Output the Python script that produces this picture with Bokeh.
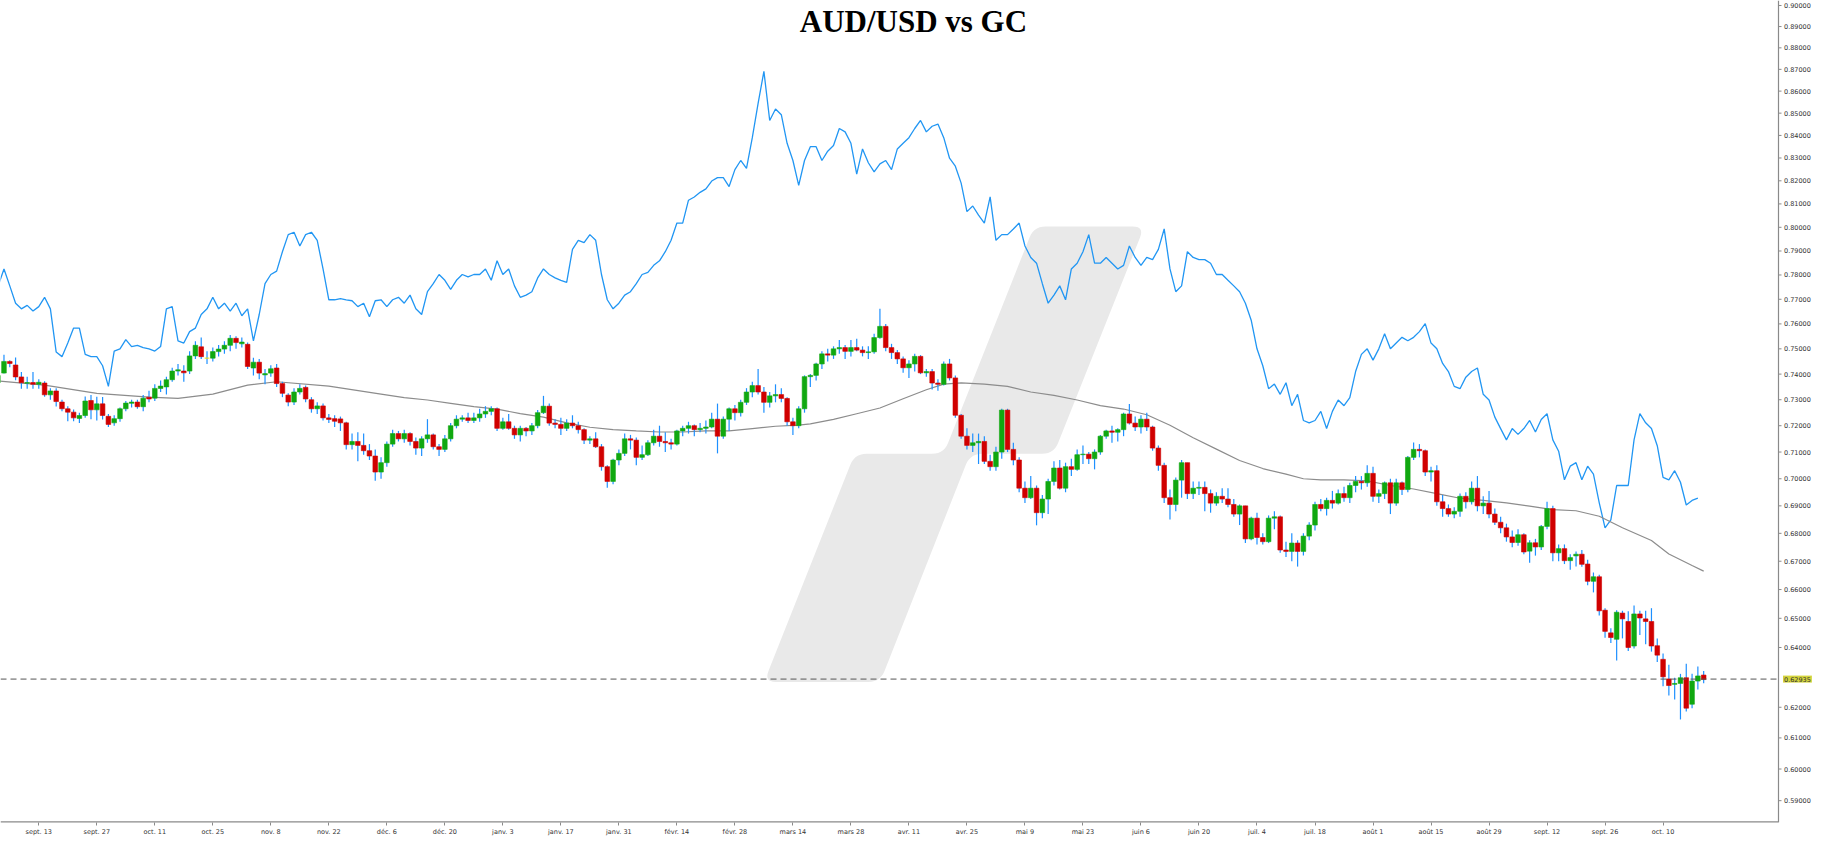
import math
from bokeh.plotting import figure
from bokeh.models import Range1d, FixedTicker, Span, Label, ColumnDataSource
from bokeh.core.properties import value
from bokeh.embed import file_html
from bokeh.resources import INLINE

# ---------------- data ----------------
first_index = -6   # candle index; index 1 = "sept. 13"

opens = [
    0.7366, 0.7404, 0.7450, 0.7436, 0.7389, 0.7364, 0.7367, 0.7360, 0.7365, 0.7319,
    0.7334, 0.7291, 0.7265, 0.7252, 0.7228, 0.7239, 0.7297, 0.7261, 0.7284, 0.7236,
    0.7211, 0.7227, 0.7265, 0.7286, 0.7291, 0.7273, 0.7310, 0.7306, 0.7344, 0.7350,
    0.7378, 0.7412, 0.7412, 0.7412, 0.7472, 0.7508, 0.7463, 0.7463, 0.7489, 0.7499,
    0.7514, 0.7542, 0.7520, 0.7518, 0.7424, 0.7447, 0.7397, 0.7404, 0.7424, 0.7363,
    0.7318, 0.7291, 0.7330, 0.7348, 0.7300, 0.7265, 0.7276, 0.7230, 0.7227, 0.7226,
    0.7211, 0.7128, 0.7140, 0.7125, 0.7105, 0.7085, 0.7025, 0.7060, 0.7130, 0.7170,
    0.7150, 0.7170, 0.7140, 0.7115, 0.7150, 0.7165, 0.7120, 0.7110, 0.7150, 0.7200,
    0.7225, 0.7230, 0.7220, 0.7230, 0.7245, 0.7255, 0.7265, 0.7190, 0.7215, 0.7190,
    0.7165, 0.7190, 0.7180, 0.7200, 0.7250, 0.7275, 0.7210, 0.7205, 0.7190, 0.7210,
    0.7200, 0.7185, 0.7145, 0.7150, 0.7120, 0.7045, 0.6990, 0.7070, 0.7095, 0.7150,
    0.7145, 0.7080, 0.7090, 0.7135, 0.7160, 0.7140, 0.7135, 0.7130, 0.7180, 0.7190,
    0.7200, 0.7185, 0.7190, 0.7195, 0.7225, 0.7160, 0.7225, 0.7265, 0.7250, 0.7290,
    0.7330, 0.7355, 0.7330, 0.7290, 0.7315, 0.7320, 0.7305, 0.7215, 0.7200, 0.7265,
    0.7390, 0.7395, 0.7440, 0.7480, 0.7475, 0.7500, 0.7505, 0.7490, 0.7505, 0.7495,
    0.7485, 0.7488, 0.7545, 0.7590, 0.7505, 0.7485, 0.7460, 0.7425, 0.7440, 0.7470,
    0.7405, 0.7410, 0.7365, 0.7360, 0.7440, 0.7385, 0.7240, 0.7160, 0.7125, 0.7135,
    0.7140, 0.7065, 0.7045, 0.7100, 0.7260, 0.7110, 0.7070, 0.6965, 0.6930, 0.6965,
    0.6875, 0.6925, 0.6990, 0.7040, 0.6965, 0.7045, 0.7035, 0.7090, 0.7092, 0.7075,
    0.7100, 0.7160, 0.7180, 0.7175, 0.7185, 0.7245, 0.7210, 0.7195, 0.7225, 0.7195,
    0.7115, 0.7050, 0.6930, 0.6905, 0.6995, 0.7060, 0.6945, 0.6965, 0.6968, 0.6945,
    0.6910, 0.6935, 0.6925, 0.6905, 0.6870, 0.6900, 0.6780, 0.6855, 0.6785, 0.6770,
    0.6855, 0.6860, 0.6740, 0.6735, 0.6765, 0.6735, 0.6790, 0.6830, 0.6905, 0.6890,
    0.6920, 0.6910, 0.6945, 0.6930, 0.6975, 0.6990, 0.6985, 0.7020, 0.6935, 0.6945,
    0.6985, 0.6910, 0.6985, 0.6960, 0.7080, 0.7110,
    0.7105, 0.7025, 0.7030, 0.6915, 0.6890, 0.6870, 0.6880, 0.6935, 0.6915, 0.6965,
    0.6900, 0.6910, 0.6870, 0.6840, 0.6820, 0.6787, 0.6767, 0.6795,
    0.6736, 0.6766, 0.6751, 0.6825, 0.6890, 0.6730, 0.6745, 0.6702, 0.6719, 0.6725,
    0.6690, 0.6629, 0.6645, 0.6528, 0.6450, 0.6428, 0.6518, 0.6489, 0.6405, 0.6515,
    0.6498, 0.6489, 0.6406, 0.6360, 0.6294, 0.6276, 0.6279, 0.6298, 0.6210, 0.6287,
    0.6307,
]

highs = [
    0.7410, 0.7476, 0.7455, 0.7466, 0.7408, 0.7390, 0.7408, 0.7380, 0.7372, 0.7345,
    0.7345, 0.7300, 0.7275, 0.7262, 0.7250, 0.7313, 0.7318, 0.7312, 0.7311, 0.7245,
    0.7240, 0.7270, 0.7295, 0.7300, 0.7300, 0.7318, 0.7335, 0.7360, 0.7375, 0.7390,
    0.7425, 0.7440, 0.7435, 0.7490, 0.7530, 0.7545, 0.7490, 0.7505, 0.7515, 0.7530,
    0.7555, 0.7550, 0.7545, 0.7525, 0.7465, 0.7460, 0.7420, 0.7435, 0.7440, 0.7370,
    0.7325, 0.7345, 0.7360, 0.7355, 0.7310, 0.7290, 0.7285, 0.7245, 0.7240, 0.7235,
    0.7215, 0.7170, 0.7175, 0.7170, 0.7130, 0.7110, 0.7080, 0.7140, 0.7185, 0.7180,
    0.7185, 0.7175, 0.7155, 0.7160, 0.7225, 0.7170, 0.7130, 0.7165, 0.7210, 0.7240,
    0.7240, 0.7250, 0.7250, 0.7265, 0.7275, 0.7275, 0.7270, 0.7230, 0.7245, 0.7200,
    0.7200, 0.7195, 0.7210, 0.7260, 0.7315, 0.7285, 0.7225, 0.7230, 0.7225, 0.7240,
    0.7215, 0.7190, 0.7160, 0.7175, 0.7130, 0.7050, 0.7075, 0.7110, 0.7170, 0.7165,
    0.7155, 0.7125, 0.7145, 0.7185, 0.7200, 0.7175, 0.7150, 0.7185, 0.7200, 0.7215,
    0.7205, 0.7210, 0.7220, 0.7250, 0.7285, 0.7235, 0.7270, 0.7280, 0.7300, 0.7345,
    0.7370, 0.7420, 0.7350, 0.7330, 0.7360, 0.7345, 0.7310, 0.7230, 0.7275, 0.7395,
    0.7400, 0.7445, 0.7490, 0.7500, 0.7510, 0.7535, 0.7515, 0.7535, 0.7540, 0.7510,
    0.7510, 0.7560, 0.7661, 0.7600, 0.7520, 0.7495, 0.7470, 0.7455, 0.7480, 0.7475,
    0.7420, 0.7420, 0.7380, 0.7450, 0.7460, 0.7395, 0.7245, 0.7190, 0.7170, 0.7170,
    0.7160, 0.7090, 0.7120, 0.7265, 0.7265, 0.7135, 0.7080, 0.6990, 0.7010, 0.6975,
    0.6940, 0.7000, 0.7065, 0.7070, 0.7060, 0.7075, 0.7110, 0.7125, 0.7100, 0.7110,
    0.7165, 0.7185, 0.7200, 0.7190, 0.7250, 0.7283, 0.7235, 0.7240, 0.7250, 0.7200,
    0.7125, 0.7060, 0.6960, 0.7005, 0.7070, 0.7060, 0.6990, 0.6990, 0.6990, 0.6960,
    0.6950, 0.6965, 0.6965, 0.6925, 0.6905, 0.6900, 0.6860, 0.6875, 0.6800, 0.6865,
    0.6880, 0.6865, 0.6770, 0.6800, 0.6775, 0.6800, 0.6840, 0.6915, 0.6925, 0.6930,
    0.6955, 0.6960, 0.6970, 0.6985, 0.7010, 0.7010, 0.7050, 0.7045, 0.6960, 0.6990,
    0.7000, 0.7000, 0.6990, 0.7085, 0.7136, 0.7130,
    0.7110, 0.7045, 0.7050, 0.6940, 0.6905, 0.6895, 0.6945, 0.6950, 0.6990, 0.7010,
    0.6935, 0.6955, 0.6890, 0.6860, 0.6835, 0.6810, 0.6815, 0.6800,
    0.6775, 0.6780, 0.6830, 0.6915, 0.6900, 0.6760, 0.6760, 0.6725, 0.6735, 0.6740,
    0.6705, 0.6660, 0.6652, 0.6535, 0.6466, 0.6528, 0.6526, 0.6524, 0.6544, 0.6526,
    0.6526, 0.6535, 0.6431, 0.6380, 0.6342, 0.6298, 0.6311, 0.6345, 0.6311, 0.6336,
    0.6321,
]

lows = [
    0.7345, 0.7402, 0.7427, 0.7376, 0.7343, 0.7343, 0.7343, 0.7343, 0.7312, 0.7300,
    0.7274, 0.7255, 0.7217, 0.7217, 0.7210, 0.7230, 0.7225, 0.7220, 0.7224, 0.7195,
    0.7200, 0.7215, 0.7255, 0.7270, 0.7265, 0.7255, 0.7290, 0.7295, 0.7330, 0.7320,
    0.7370, 0.7395, 0.7370, 0.7400, 0.7460, 0.7460, 0.7440, 0.7450, 0.7470, 0.7480,
    0.7490, 0.7500, 0.7505, 0.7420, 0.7395, 0.7380, 0.7360, 0.7390, 0.7350, 0.7310,
    0.7275, 0.7280, 0.7320, 0.7290, 0.7250, 0.7245, 0.7220, 0.7210, 0.7195, 0.7180,
    0.7110, 0.7110, 0.7065, 0.7090, 0.7070, 0.6993, 0.7000, 0.7045, 0.7120, 0.7140,
    0.7135, 0.7125, 0.7090, 0.7085, 0.7135, 0.7110, 0.7085, 0.7100, 0.7140, 0.7190,
    0.7215, 0.7210, 0.7210, 0.7215, 0.7230, 0.7240, 0.7180, 0.7185, 0.7185, 0.7150,
    0.7140, 0.7160, 0.7165, 0.7190, 0.7245, 0.7200, 0.7190, 0.7165, 0.7180, 0.7190,
    0.7170, 0.7130, 0.7130, 0.7115, 0.7030, 0.6967, 0.6980, 0.7050, 0.7085, 0.7110,
    0.7050, 0.7070, 0.7085, 0.7125, 0.7120, 0.7100, 0.7110, 0.7125, 0.7160, 0.7170,
    0.7160, 0.7175, 0.7170, 0.7190, 0.7095, 0.7150, 0.7180, 0.7220, 0.7235, 0.7280,
    0.7310, 0.7320, 0.7250, 0.7270, 0.7290, 0.7290, 0.7200, 0.7165, 0.7190, 0.7250,
    0.7350, 0.7375, 0.7420, 0.7450, 0.7460, 0.7480, 0.7460, 0.7470, 0.7490, 0.7470,
    0.7460, 0.7480, 0.7540, 0.7490, 0.7460, 0.7440, 0.7405, 0.7385, 0.7410, 0.7400,
    0.7390, 0.7340, 0.7335, 0.7355, 0.7375, 0.7230, 0.7150, 0.7110, 0.7100, 0.7055,
    0.7055, 0.7030, 0.7030, 0.7075, 0.7100, 0.7050, 0.6950, 0.6910, 0.6925, 0.6829,
    0.6855, 0.6870, 0.6975, 0.6960, 0.6950, 0.7010, 0.7030, 0.7055, 0.7055, 0.7035,
    0.7090, 0.7150, 0.7135, 0.7140, 0.7160, 0.7205, 0.7180, 0.7170, 0.7180, 0.7105,
    0.7030, 0.6910, 0.6850, 0.6880, 0.6930, 0.6925, 0.6925, 0.6940, 0.6880, 0.6875,
    0.6900, 0.6910, 0.6895, 0.6860, 0.6830, 0.6765, 0.6775, 0.6760, 0.6760, 0.6765,
    0.6815, 0.6730, 0.6715, 0.6700, 0.6681, 0.6720, 0.6775, 0.6810, 0.6880, 0.6865,
    0.6890, 0.6905, 0.6915, 0.6910, 0.6950, 0.6960, 0.6970, 0.6915, 0.6910, 0.6925,
    0.6870, 0.6900, 0.6940, 0.6950, 0.7070, 0.7080,
    0.7010, 0.6990, 0.6900, 0.6860, 0.6860, 0.6855, 0.6860, 0.6890, 0.6905, 0.6880,
    0.6870, 0.6855, 0.6830, 0.6800, 0.6770, 0.6750, 0.6755, 0.6725,
    0.6695, 0.6720, 0.6740, 0.6815, 0.6700, 0.6700, 0.6690, 0.6670, 0.6681, 0.6680,
    0.6615, 0.6590, 0.6510, 0.6433, 0.6415, 0.6356, 0.6431, 0.6388, 0.6397, 0.6443,
    0.6411, 0.6386, 0.6351, 0.6270, 0.6239, 0.6226, 0.6160, 0.6186, 0.6197, 0.6259,
    0.6280,
]

closes = [
    0.7395, 0.7450, 0.7442, 0.7389, 0.7366, 0.7367, 0.7360, 0.7368, 0.7319, 0.7334,
    0.7293, 0.7265, 0.7252, 0.7230, 0.7239, 0.7295, 0.7261, 0.7284, 0.7239, 0.7205,
    0.7227, 0.7265, 0.7287, 0.7291, 0.7273, 0.7306, 0.7303, 0.7344, 0.7353, 0.7378,
    0.7412, 0.7417, 0.7405, 0.7472, 0.7514, 0.7469, 0.7463, 0.7489, 0.7499, 0.7514,
    0.7542, 0.7525, 0.7527, 0.7430, 0.7447, 0.7404, 0.7402, 0.7421, 0.7363, 0.7325,
    0.7291, 0.7330, 0.7344, 0.7303, 0.7265, 0.7276, 0.7230, 0.7224, 0.7217, 0.7211,
    0.7128, 0.7140, 0.7125, 0.7105, 0.7085, 0.7025, 0.7060, 0.7130, 0.7170, 0.7150,
    0.7170, 0.7140, 0.7115, 0.7150, 0.7165, 0.7120, 0.7110, 0.7150, 0.7200, 0.7225,
    0.7230, 0.7220, 0.7230, 0.7245, 0.7255, 0.7265, 0.7190, 0.7215, 0.7190, 0.7165,
    0.7190, 0.7180, 0.7200, 0.7250, 0.7275, 0.7210, 0.7205, 0.7190, 0.7210, 0.7200,
    0.7185, 0.7145, 0.7150, 0.7120, 0.7045, 0.6990, 0.7070, 0.7095, 0.7150, 0.7145,
    0.7080, 0.7090, 0.7135, 0.7160, 0.7140, 0.7135, 0.7130, 0.7180, 0.7190, 0.7200,
    0.7185, 0.7190, 0.7195, 0.7225, 0.7160, 0.7225, 0.7265, 0.7250, 0.7290, 0.7330,
    0.7355, 0.7330, 0.7290, 0.7315, 0.7320, 0.7305, 0.7215, 0.7200, 0.7265, 0.7390,
    0.7395, 0.7440, 0.7480, 0.7475, 0.7500, 0.7505, 0.7490, 0.7505, 0.7495, 0.7485,
    0.7488, 0.7545, 0.7590, 0.7505, 0.7485, 0.7460, 0.7425, 0.7440, 0.7470, 0.7405,
    0.7410, 0.7365, 0.7360, 0.7440, 0.7385, 0.7240, 0.7160, 0.7125, 0.7135, 0.7140,
    0.7065, 0.7045, 0.7100, 0.7260, 0.7110, 0.7070, 0.6965, 0.6930, 0.6965, 0.6875,
    0.6925, 0.6990, 0.7040, 0.6965, 0.7045, 0.7035, 0.7090, 0.7092, 0.7075, 0.7100,
    0.7160, 0.7180, 0.7175, 0.7185, 0.7245, 0.7210, 0.7195, 0.7225, 0.7195, 0.7115,
    0.7050, 0.6930, 0.6905, 0.6995, 0.7060, 0.6945, 0.6965, 0.6968, 0.6945, 0.6910,
    0.6935, 0.6925, 0.6905, 0.6870, 0.6900, 0.6780, 0.6855, 0.6785, 0.6770, 0.6855,
    0.6860, 0.6740, 0.6735, 0.6765, 0.6735, 0.6790, 0.6830, 0.6905, 0.6890, 0.6920,
    0.6910, 0.6945, 0.6930, 0.6975, 0.6990, 0.6985, 0.7020, 0.6935, 0.6945, 0.6985,
    0.6910, 0.6985, 0.6960, 0.7080, 0.7110, 0.7105,
    0.7025, 0.7030, 0.6915, 0.6890, 0.6870, 0.6880, 0.6935, 0.6915, 0.6965, 0.6900,
    0.6910, 0.6870, 0.6840, 0.6820, 0.6787, 0.6767, 0.6795, 0.6733,
    0.6766, 0.6751, 0.6825, 0.6890, 0.6730, 0.6745, 0.6702, 0.6713, 0.6725, 0.6689,
    0.6629, 0.6645, 0.6526, 0.6455, 0.6434, 0.6521, 0.6498, 0.6400, 0.6515, 0.6501,
    0.6489, 0.6405, 0.6374, 0.6301, 0.6272, 0.6279, 0.6298, 0.6197, 0.6287, 0.6304,
    0.6292,
]

# GC overlay line (blue), one value per candle starting at index -6
gc_first_index = -6
gc_values = [
    0.7755, 0.7825, 0.7755, 0.7684, 0.7661, 0.7675, 0.7652, 0.7670, 0.7708, 0.7661,
    0.7487, 0.7469, 0.7523, 0.7583, 0.7583, 0.7478, 0.7469, 0.7469, 0.7433, 0.7352,
    0.7491, 0.7500, 0.7537, 0.7509, 0.7514, 0.7505, 0.7500, 0.7491, 0.7509, 0.7661,
    0.7670, 0.7532, 0.7523, 0.7569, 0.7583, 0.7638, 0.7661, 0.7708, 0.7661, 0.7684,
    0.7652, 0.7684, 0.7633, 0.7661, 0.7532, 0.7638, 0.7764, 0.7802, 0.7816, 0.7897,
    0.7969, 0.7979, 0.7921, 0.7969, 0.7979, 0.7945, 0.7825, 0.7698, 0.7698, 0.7703,
    0.7698, 0.7694, 0.7670, 0.7684, 0.7629, 0.7694, 0.7698, 0.7670, 0.7698, 0.7708,
    0.7684, 0.7717, 0.7661, 0.7638, 0.7731, 0.7764, 0.7802, 0.7778, 0.7741, 0.7778,
    0.7802, 0.7792, 0.7802, 0.7802, 0.7825, 0.7778, 0.7859, 0.7802, 0.7825, 0.7755,
    0.7708, 0.7717, 0.7731, 0.7788, 0.7825, 0.7802, 0.7788, 0.7778, 0.7769, 0.7907,
    0.7945, 0.7935, 0.7969, 0.7945, 0.7802, 0.7698, 0.7661, 0.7684, 0.7717, 0.7731,
    0.7764, 0.7802, 0.7811, 0.7840, 0.7859, 0.7897, 0.7945, 0.8018, 0.8018, 0.8116,
    0.8130, 0.8150, 0.8165, 0.8199, 0.8214, 0.8214, 0.8175, 0.8249, 0.8289, 0.8254,
    0.8390, 0.8544, 0.8691, 0.8467, 0.8519, 0.8493, 0.8365, 0.8289, 0.8180, 0.8289,
    0.8350, 0.8350, 0.8289, 0.8330, 0.8355, 0.8431, 0.8416, 0.8365, 0.8229, 0.8340,
    0.8279, 0.8239, 0.8274, 0.8289, 0.8249, 0.8340, 0.8365, 0.8390, 0.8431, 0.8467,
    0.8416, 0.8441, 0.8451, 0.8390, 0.8299, 0.8264, 0.8190, 0.8067, 0.8091, 0.8052,
    0.8018, 0.8130, 0.7945, 0.7969, 0.7969, 0.7993, 0.8018, 0.7921, 0.7873, 0.7849,
    0.7764, 0.7684, 0.7717, 0.7755, 0.7698, 0.7825, 0.7849, 0.7897, 0.7969, 0.7849,
    0.7849, 0.7873, 0.7849, 0.7825, 0.7840, 0.7921, 0.7873, 0.7840, 0.7873, 0.7864,
    0.7907, 0.7993, 0.7825, 0.7731, 0.7755, 0.7897, 0.7873, 0.7864, 0.7864, 0.7849,
    0.7802, 0.7802, 0.7778, 0.7755, 0.7731, 0.7684, 0.7615, 0.7500, 0.7433, 0.7343,
    0.7361, 0.7321, 0.7366, 0.7277, 0.7321, 0.7220, 0.7211, 0.7220, 0.7255, 0.7189,
    0.7255, 0.7299, 0.7277, 0.7308, 0.7410, 0.7478, 0.7500, 0.7455, 0.7500, 0.7560,
    0.7500, 0.7523, 0.7546, 0.7532, 0.7546, 0.7569, 0.7601, 0.7523, 0.7500, 0.7442,
    0.7410, 0.7352, 0.7343, 0.7388, 0.7410, 0.7424, 0.7321, 0.7299, 0.7233, 0.7189,
    0.7146, 0.7189, 0.7167, 0.7189, 0.7220, 0.7176, 0.7224, 0.7246, 0.7146, 0.7103,
    0.6996, 0.7047, 0.7060, 0.6996, 0.7047, 0.7017, 0.6911, 0.6820, 0.6849, 0.6975,
    0.6975, 0.6975, 0.7146, 0.7246, 0.7211, 0.7189, 0.7124, 0.7005, 0.6996, 0.7030,
    0.6987, 0.6903, 0.6920, 0.6928,
]

# grey moving average (vertices)
ma_idx = [-6, 2, 11, 20, 25, 31, 37, 42, 51, 60, 64, 68, 72, 76, 80, 84, 88, 92, 96, 100,
          104, 108, 112, 116, 120, 124, 128, 132, 134, 138, 142, 146, 150, 154, 157, 160,
          164, 168, 172, 176, 180, 184, 188, 192, 196, 200, 204, 208, 212, 216, 219, 222,
          226, 230, 234, 238, 242, 246, 250, 254, 258, 262, 266, 270, 274, 279, 282, 286, 288]
ma_val = [0.7373, 0.7357, 0.7325, 0.7310, 0.7305, 0.7322, 0.7357, 0.7370, 0.7353, 0.7322,
          0.7308, 0.7299, 0.7286, 0.7273, 0.7264, 0.7246, 0.7233, 0.7211, 0.7194, 0.7185,
          0.7180, 0.7176, 0.7176, 0.7180, 0.7180, 0.7189, 0.7198, 0.7202, 0.7207, 0.7224,
          0.7246, 0.7268, 0.7304, 0.7339, 0.7361, 0.7366, 0.7361, 0.7352, 0.7330, 0.7317,
          0.7299, 0.7277, 0.7264, 0.7242, 0.7202, 0.7154, 0.7111, 0.7068, 0.7038, 0.7017,
          0.7000, 0.6996, 0.6996, 0.6992, 0.6975, 0.6962, 0.6945, 0.6928, 0.6920, 0.6911,
          0.6899, 0.6886, 0.6882, 0.6862, 0.6820, 0.6774, 0.6726, 0.6685, 0.6665]

last_price = 0.62935
last_price_text = "0.62935"

x_tick_pos = [1, 11, 21, 31, 41, 51, 61, 71, 81, 91, 101, 111, 121, 131, 141, 151, 161,
              171, 181, 191, 201, 211, 221, 231, 241, 251, 261, 271, 281]
x_tick_labels = ["sept. 13", "sept. 27", "oct. 11", "oct. 25", "nov. 8", "nov. 22",
                 "déc. 6", "déc. 20", "janv. 3", "janv. 17", "janv. 31", "févr. 14",
                 "févr. 28", "mars 14", "mars 28", "avr. 11", "avr. 25", "mai 9", "mai 23",
                 "juin 6", "juin 20", "juil. 4", "juil. 18", "août 1", "août 15", "août 29",
                 "sept. 12", "sept. 26", "oct. 10"]
y_ticks = [0.59, 0.60, 0.61, 0.62, 0.64, 0.65, 0.66, 0.67, 0.68, 0.69, 0.70, 0.71, 0.72,
           0.73, 0.74, 0.75, 0.76, 0.77, 0.78, 0.79, 0.80, 0.81, 0.82, 0.83, 0.84, 0.85,
           0.86, 0.87, 0.88, 0.89, 0.90]
y_tick_labels = ["0.59000", "0.60000", "0.61000", "0.62000", "0.64000", "0.65000",
                 "0.66000", "0.67000", "0.68000", "0.69000", "0.70000", "0.71000",
                 "0.72000", "0.73000", "0.74000", "0.75000", "0.76000", "0.77000",
                 "0.78000", "0.79000", "0.80000", "0.81000", "0.82000", "0.83000",
                 "0.84000", "0.85000", "0.86000", "0.87000", "0.88000", "0.89000", "0.90000"]
title_text = "AUD/USD vs GC"

n = len(opens)
assert len(highs) == n and len(lows) == n and len(closes) == n
assert len(ma_idx) == len(ma_val) and len(y_ticks) == len(y_tick_labels)

# ---------------- build ----------------
idx = list(range(first_index, first_index + n))
gc_idx = list(range(gc_first_index, gc_first_index + len(gc_values)))

GREEN, RED, DOJI = "#10a810", "#d00000", "#f2e200"
colors = [GREEN if c > o else (RED if c < o else DOJI) for o, c in zip(opens, closes)]
src = ColumnDataSource(dict(
    x=idx, o=opens, h=highs, l=lows, c=closes,
    top=[max(o, c) for o, c in zip(opens, closes)],
    bottom=[min(o, c) for o, c in zip(opens, closes)],
    color=colors))

FRAME_W, FRAME_H = 1812, 822
X_LO = -5.6
PX = 306.5 / 1778.0          # index units per screen pixel
X_HI = X_LO + FRAME_W * PX
AXIS_X = X_LO + 1778 * PX    # price scale sits at this x
Y_LO, Y_HI = 0.5832, 0.9024
AXIS_GREY = "#8a8a8a"

p = figure(frame_width=FRAME_W, frame_height=FRAME_H,
           x_range=Range1d(X_LO, X_HI), y_range=Range1d(Y_LO, Y_HI),
           y_axis_type="log", y_axis_location=None,
           output_backend="svg", toolbar_location=None,
           min_border_left=0, min_border_top=0, min_border_right=0, min_border_bottom=0,
           background_fill_color="white", border_fill_color="white")
p.outline_line_color = None
p.xgrid.visible = False
p.ygrid.visible = False

# watermark (decorative logo), defined in screen pixels of the reference then mapped
def px_to_idx(X):
    return (X - 32.6) / 5.827

def px_to_val(Y):
    return 0.90235 * math.exp(-Y / 1918.0)

def rounded(points, r, steps=7):
    out = []
    m = len(points)
    for k in range(m):
        p0, p1, p2 = points[k - 1], points[k], points[(k + 1) % m]
        v1 = (p0[0] - p1[0], p0[1] - p1[1])
        v2 = (p2[0] - p1[0], p2[1] - p1[1])
        l1 = math.hypot(*v1)
        l2 = math.hypot(*v2)
        rr = min(r, l1 / 2.0, l2 / 2.0)
        a = (p1[0] + v1[0] / l1 * rr, p1[1] + v1[1] / l1 * rr)
        b = (p1[0] + v2[0] / l2 * rr, p1[1] + v2[1] / l2 * rr)
        for s in range(steps + 1):
            t = s / steps
            x = (1 - t) ** 2 * a[0] + 2 * (1 - t) * t * p1[0] + t ** 2 * b[0]
            y = (1 - t) ** 2 * a[1] + 2 * (1 - t) * t * p1[1] + t ** 2 * b[1]
            out.append((x, y))
    return out

logo_px = [(1038, 230), (1149, 230), (1058, 461.6), (974, 461.6),
           (883.6, 694), (767, 694), (858, 461.6), (947.5, 461.6)]
logo = rounded(logo_px, 12)
p.patch([px_to_idx(q[0]) for q in logo], [px_to_val(q[1]) for q in logo],
        fill_color="#e9e9e9", line_color=None)

# GC line and moving average
p.line(gc_idx, gc_values, line_color="#2196f3", line_width=1.3)
p.line(ma_idx, ma_val, line_color="#8c8c8c", line_width=1.2)

# candles
p.segment(x0="x", y0="l", x1="x", y1="h", source=src, line_color="#1e90ff", line_width=1.2)
p.vbar(x="x", width=0.8, top="top", bottom="bottom", source=src,
       fill_color="color", line_color="color", line_width=0.6)

# last price dashed line (up to the price scale)
p.segment(x0=[X_LO], y0=[last_price], x1=[AXIS_X], y1=[last_price],
          line_color="#555555", line_dash="6 4", line_width=1)

# price scale on the right (drawn inside the canvas so that the price tag is visible)
p.add_layout(Span(location=AXIS_X, dimension="height", line_color=AXIS_GREY, line_width=1.2))
n_y = len(y_ticks)
p.segment(x0=[AXIS_X] * n_y, y0=y_ticks, x1=[AXIS_X + 3 * PX] * n_y, y1=y_ticks,
          line_color=AXIS_GREY, line_width=1)
p.text(x=[AXIS_X + 5.5 * PX] * n_y, y=y_ticks, text=y_tick_labels,
       text_font=value("DejaVu Sans"), text_font_size="6.5px", text_color="#333333",
       text_baseline="middle", text_align="left")
p.add_layout(Label(x=AXIS_X + 4.5 * PX, y=last_price, text=last_price_text,
                   text_font="DejaVu Sans", text_font_size="6.5px", text_color="#333333",
                   text_baseline="middle", text_align="left",
                   background_fill_color="#d4d43c", padding=1))

# bottom line of the time axis stops at the price scale
p.segment(x0=[X_LO], y0=[Y_LO], x1=[AXIS_X], y1=[Y_LO], line_color=AXIS_GREY, line_width=2.4)

# title
p.add_layout(Label(x=px_to_idx(917), y=px_to_val(21), text=title_text,
                   text_font="Liberation Serif", text_font_style="bold",
                   text_font_size="31px", text_color="#000000",
                   text_align="center", text_baseline="middle"))

# time axis
ax = p.xaxis[0]
ax.axis_line_color = None
ax.major_tick_line_color = AXIS_GREY
ax.major_tick_out = 3
ax.major_tick_in = 0
ax.minor_tick_line_color = None
ax.major_label_text_font = "DejaVu Sans"
ax.major_label_text_font_size = "6.5px"
ax.major_label_text_color = "#333333"
ax.major_label_standoff = 2
ax.ticker = FixedTicker(ticks=x_tick_pos)
ax.major_label_overrides = {pos: lab for pos, lab in zip(x_tick_pos, x_tick_labels)}

open("out.html", "w").write(file_html(p, INLINE))
